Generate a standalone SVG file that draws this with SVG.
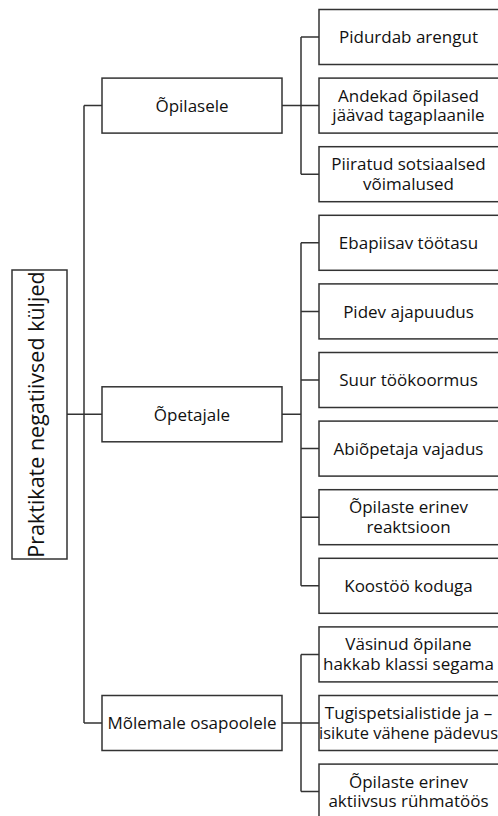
<svg xmlns="http://www.w3.org/2000/svg" width="498" height="816" viewBox="0 0 498 816">
<style>
.box{fill:#fff;stroke:#333;stroke-width:1.5}
.ln{fill:none;stroke:#333;stroke-width:1.5}
text{font-family:"Open Sans","Liberation Sans",sans-serif;font-size:17px;fill:#111;text-anchor:middle}
.root{font-size:21.5px}
</style>
<rect width="498" height="816" fill="#fff"/>
<g id="connectors">
<path class="ln" d="M67,414.3H84M84,105.6V723M84,105.6H102M84,414.3H102M84,723H102"/>
<path class="ln" d="M282,105.6H301M301,37V174.2M301,37H319M301,105.6H319M301,174.2H319"/>
<path class="ln" d="M282,414.3H301M301,242.8V585.8M301,242.8H319M301,311.4H319M301,380H319M301,448.6H319M301,517.2H319M301,585.8H319"/>
<path class="ln" d="M282,723H301M301,654.4V791.6M301,654.4H319M301,723H319M301,791.6H319"/>
</g>
<g id="root"><rect class="box" x="12" y="270" width="55" height="289"/><text class="root" x="44" y="414.5" transform="rotate(-90 44 414.5)">Praktikate negatiivsed küljed</text></g>
<g id="opilasele"><rect class="box" x="102" y="78.1" width="180" height="55"/><text x="192" y="111.8">Õpilasele</text></g>
<g id="opetajale"><rect class="box" x="102" y="386.8" width="180" height="55"/><text x="192" y="420.5">Õpetajale</text></g>
<g id="molemale"><rect class="box" x="102" y="695.5" width="180" height="55"/><text x="192" y="729.2">Mõlemale osapoolele</text></g>
<g id="c1"><rect class="box" x="319" y="9.5" width="181" height="55"/><text x="408.5" y="43.2">Pidurdab arengut</text></g>
<g id="c2"><rect class="box" x="319" y="78.1" width="181" height="55"/><text x="408.5" y="101.6">Andekad õpilased</text><text x="408.5" y="121.4">jäävad tagaplaanile</text></g>
<g id="c3"><rect class="box" x="319" y="146.7" width="181" height="55"/><text x="408.5" y="170.2">Piiratud sotsiaalsed</text><text x="408.5" y="190">võimalused</text></g>
<g id="c4"><rect class="box" x="319" y="215.3" width="181" height="55"/><text x="408.5" y="249">Ebapiisav töötasu</text></g>
<g id="c5"><rect class="box" x="319" y="283.9" width="181" height="55"/><text x="408.5" y="317.6">Pidev ajapuudus</text></g>
<g id="c6"><rect class="box" x="319" y="352.5" width="181" height="55"/><text x="408.5" y="386.2">Suur töökoormus</text></g>
<g id="c7"><rect class="box" x="319" y="421.1" width="181" height="55"/><text x="408.5" y="454.8">Abiõpetaja vajadus</text></g>
<g id="c8"><rect class="box" x="319" y="489.7" width="181" height="55"/><text x="408.5" y="513.2">Õpilaste erinev</text><text x="408.5" y="533">reaktsioon</text></g>
<g id="c9"><rect class="box" x="319" y="558.3" width="181" height="55"/><text x="408.5" y="592">Koostöö koduga</text></g>
<g id="c10"><rect class="box" x="319" y="626.9" width="181" height="55"/><text x="408.5" y="650.4">Väsinud õpilane</text><text x="408.5" y="670.2">hakkab klassi segama</text></g>
<g id="c11"><rect class="box" x="319" y="695.5" width="181" height="55"/><text x="408.5" y="719">Tugispetsialistide ja –</text><text x="408.5" y="738.8" textLength="179" lengthAdjust="spacingAndGlyphs">isikute vähene pädevus</text></g>
<g id="c12"><rect class="box" x="319" y="764.1" width="181" height="55"/><text x="408.5" y="787.6">Õpilaste erinev</text><text x="408.5" y="807.4">aktiivsus rühmatöös</text></g>
</svg>
